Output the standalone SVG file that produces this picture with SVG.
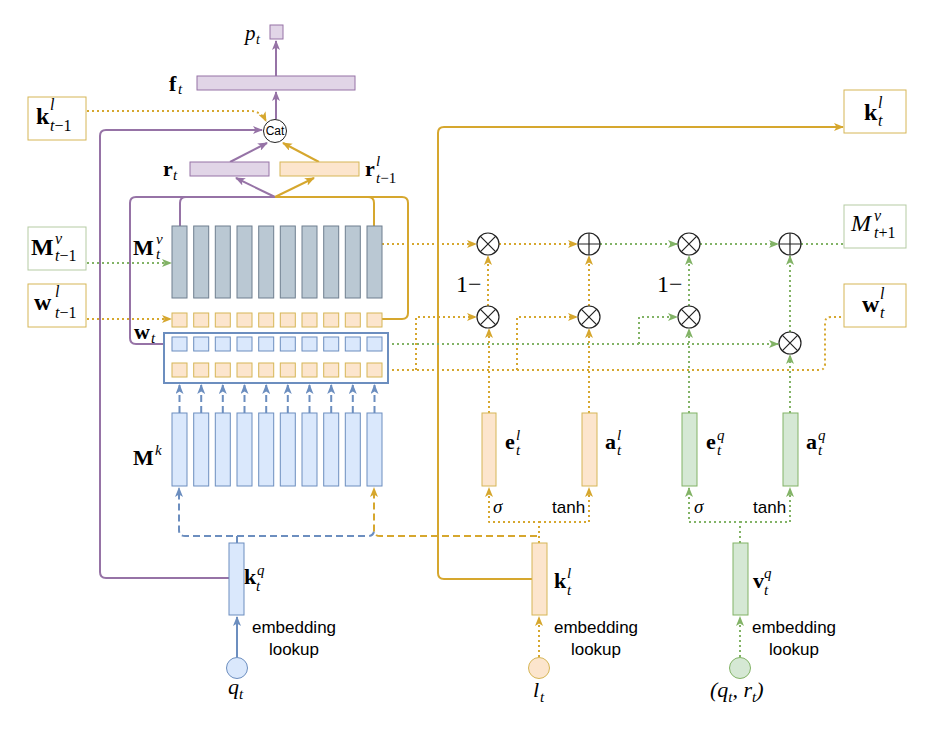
<svg xmlns="http://www.w3.org/2000/svg" width="942" height="738" viewBox="0 0 942 738">
<defs>
<style>
.m{font-family:"Liberation Serif",serif;font-weight:bold;font-size:22px;fill:#000}
.mi{font-family:"Liberation Serif",serif;font-style:italic;font-size:22px;fill:#000}
.s{font-family:"Liberation Serif",serif;font-style:italic;font-weight:normal;font-size:15px}
.sn{font-family:"Liberation Serif",serif;font-style:normal;font-weight:normal;font-size:15px}
.sans{font-family:"Liberation Sans",Arial,sans-serif;font-size:17px;fill:#000}
.pu{fill:#e1d5e7;stroke:#9673a6;stroke-width:1}
.go{fill:#fce5cd;stroke:#d6b656;stroke-width:1}
.gr{fill:#d5e8d4;stroke:#82b366;stroke-width:1}
.bl{fill:#dae8fc;stroke:#6c8ebf;stroke-width:1}
.gy{fill:#bac8d3;stroke:#6f7f8f;stroke-width:1}
.lab{fill:#fff;stroke-width:1}
.op{fill:#fff;stroke:#222;stroke-width:1.2}
.opl{stroke:#222;stroke-width:1.2}
.c{fill:none;stroke-width:2;stroke-linejoin:round}
.cp{stroke:#9673a6}
.cg{stroke:#d6a72e}
.cgr{stroke:#82b366}
.cb{stroke:#6c8ebf}
.dot{stroke-dasharray:2 3}
.dash{stroke-dasharray:7 4}
</style>
<marker id="ap" viewBox="0 0 10 8" refX="9" refY="4" markerWidth="10" markerHeight="8" markerUnits="userSpaceOnUse" orient="auto"><path d="M0,0 L10,4 L0,8 L2.5,4 z" fill="#9673a6"/></marker>
<marker id="ag" viewBox="0 0 10 8" refX="9" refY="4" markerWidth="10" markerHeight="8" markerUnits="userSpaceOnUse" orient="auto"><path d="M0,0 L10,4 L0,8 L2.5,4 z" fill="#d6a72e"/></marker>
<marker id="agr" viewBox="0 0 10 8" refX="9" refY="4" markerWidth="10" markerHeight="8" markerUnits="userSpaceOnUse" orient="auto"><path d="M0,0 L10,4 L0,8 L2.5,4 z" fill="#82b366"/></marker>
<marker id="ab" viewBox="0 0 10 8" refX="9" refY="4" markerWidth="10" markerHeight="8" markerUnits="userSpaceOnUse" orient="auto"><path d="M0,0 L10,4 L0,8 L2.5,4 z" fill="#6c8ebf"/></marker>
</defs>
<rect width="942" height="738" fill="#fff"/>

<g id="connectors">
<!-- purple solid -->
<path class="c cp" d="M276,119 L276,92" marker-end="url(#ap)"/>
<path class="c cp" d="M276,76 L276,41" marker-end="url(#ap)"/>
<path class="c cp" d="M230,162 L267,143" marker-end="url(#ap)"/>
<path class="c cp" d="M275,197 L236,178" marker-end="url(#ap)"/>
<path class="c cp" d="M275,197 L186,197 Q180,197 180,203 L180,226"/>
<path class="c cp" d="M275,197 L136,197 Q130,197 130,203 L130,338 Q130,344 136,344 L172,344"/>
<path class="c cp" d="M229,578 L106,578 Q100,578 100,572 L100,136 Q100,130 106,130 L262,130" marker-end="url(#ap)"/>
<!-- gold solid -->
<path class="c cg" d="M319,162 L283,143" marker-end="url(#ag)"/>
<path class="c cg" d="M275,197 L314,178" marker-end="url(#ag)"/>
<path class="c cg" d="M275,197 L368,197 Q374,197 374,203 L374,226"/>
<path class="c cg" d="M275,197 L402,197 Q408,197 408,203 L408,313 Q408,319 402,319 L382,319"/>
<path class="c cg" d="M532,579 L444,579 Q438,579 438,573 L438,133 Q438,127 444,127 L843,127" marker-end="url(#ag)"/>
<!-- gold dotted -->
<path class="c cg dot" d="M72,111 L250,111 Q261,111 266,121" marker-end="url(#ag)"/>
<path class="c cg dot" d="M72,319 L171,319" marker-end="url(#ag)"/>
<path class="c cg dot" d="M382,244 L476,244" marker-end="url(#ag)"/>
<path class="c cg dot" d="M499,244 L577,244" marker-end="url(#ag)"/>
<path class="c cg dot" d="M488,306 L488,256" marker-end="url(#ag)"/>
<path class="c cg dot" d="M589,306 L589,256" marker-end="url(#ag)"/>
<path class="c cg dot" d="M382,370 L819,370 Q825,370 825,364 L825,323 Q825,317 831,317 L870,317" marker-end="url(#ag)"/>
<path class="c cg dot" d="M416,370 L416,317 L476,317" marker-end="url(#ag)"/>
<path class="c cg dot" d="M517,370 L517,317 L577,317" marker-end="url(#ag)"/>
<path class="c cg dot" d="M489,413 L489,329" marker-end="url(#ag)"/>
<path class="c cg dot" d="M589,413 L589,329" marker-end="url(#ag)"/>
<path class="c cg dot" d="M539,543 L539,522 L489,522 L489,488" marker-end="url(#ag)"/>
<path class="c cg dot" d="M539,522 L589,522 L589,488" marker-end="url(#ag)"/>
<path class="c cg dot" d="M539,657 L539,617" marker-end="url(#ag)"/>
<!-- gold dashed -->
<path class="c cg dash" d="M537,536 L380,536 Q374,536 374,530 L374,488" marker-end="url(#ag)"/>
<!-- green dotted -->
<path class="c cgr dot" d="M72,263 L171,263" marker-end="url(#agr)"/>
<path class="c cgr dot" d="M600,244 L677,244" marker-end="url(#agr)"/>
<path class="c cgr dot" d="M700,244 L778,244" marker-end="url(#agr)"/>
<path class="c cgr dot" d="M801,244 L862,244" marker-end="url(#agr)"/>
<path class="c cgr dot" d="M382,344 L778,344" marker-end="url(#agr)"/>
<path class="c cgr dot" d="M639,344 L639,317 L677,317" marker-end="url(#agr)"/>
<path class="c cgr dot" d="M689,306 L689,256" marker-end="url(#agr)"/>
<path class="c cgr dot" d="M790,332 L790,256" marker-end="url(#agr)"/>
<path class="c cgr dot" d="M689,413 L689,329" marker-end="url(#agr)"/>
<path class="c cgr dot" d="M790,413 L790,355" marker-end="url(#agr)"/>
<path class="c cgr dot" d="M740,543 L740,522 L689,522 L689,488" marker-end="url(#agr)"/>
<path class="c cgr dot" d="M740,522 L790,522 L790,488" marker-end="url(#agr)"/>
<path class="c cgr dot" d="M740,657 L740,617" marker-end="url(#agr)"/>
<!-- blue -->
<path class="c cb" d="M237,657 L237,617" marker-end="url(#ab)"/>
<path class="c cb dash" d="M237,543 L237,536 L185,536 Q179,536 179,530 L179,488" marker-end="url(#ab)"/>
<path class="c cb dash" d="M237,536 L368,536 Q374,536 374,530"/>
<g class="c cb dash">
<path d="M179.5,413 L179.5,385" marker-end="url(#ab)"/>
<path d="M201.2,413 L201.2,385" marker-end="url(#ab)"/>
<path d="M222.8,413 L222.8,385" marker-end="url(#ab)"/>
<path d="M244.5,413 L244.5,385" marker-end="url(#ab)"/>
<path d="M266.2,413 L266.2,385" marker-end="url(#ab)"/>
<path d="M287.8,413 L287.8,385" marker-end="url(#ab)"/>
<path d="M309.5,413 L309.5,385" marker-end="url(#ab)"/>
<path d="M331.2,413 L331.2,385" marker-end="url(#ab)"/>
<path d="M352.8,413 L352.8,385" marker-end="url(#ab)"/>
<path d="M374.5,413 L374.5,385" marker-end="url(#ab)"/>
</g>
</g>

<g id="p_t">
<rect class="pu" x="270" y="25" width="13" height="14"/>
<text class="mi" x="245" y="40" style="font-size:21px">p<tspan class="s" x="256" y="44" style="font-size:14px">t</tspan></text>
</g>
<g id="f_t">
<rect class="pu" x="197" y="76" width="158" height="14"/>
<text class="m" x="169" y="91" style="font-size:22px">f<tspan class="s" x="178" y="94" style="font-size:15px">t</tspan></text>
</g>
<g id="cat">
<circle cx="275" cy="131" r="11.5" fill="#fff" stroke="#222" stroke-width="1"/>
<text class="sans" x="275" y="135" text-anchor="middle" style="font-size:12px">Cat</text>
</g>
<g id="r_t">
<rect class="pu" x="190" y="162" width="79" height="14"/>
<text class="m" x="163" y="176">r<tspan class="s" x="173" y="180">t</tspan></text>
</g>
<g id="r_tm1">
<rect class="go" x="280" y="162" width="79" height="14"/>
<text class="m" x="365" y="176">r<tspan class="s" x="376" y="166">l</tspan><tspan class="s" x="376" y="183">t<tspan class="sn">−1</tspan></tspan></text>
</g>
<g id="k_tm1">
<rect class="lab" x="28" y="97" width="58" height="43" stroke="#d6b656"/>
<text class="m" x="36" y="124" style="font-size:24px">k<tspan class="s" x="50" y="110" style="font-size:16px">l</tspan><tspan class="s" x="50" y="131" style="font-size:16px">t<tspan class="sn" style="font-size:16px">−1</tspan></tspan></text>
</g>
<g id="M_tm1">
<rect class="lab" x="28" y="227" width="58" height="43" stroke="#b5cba3"/>
<text class="m" x="31" y="255" style="font-size:24px">M<tspan class="s" x="55" y="244" style="font-size:16px">v</tspan><tspan class="s" x="55" y="261" style="font-size:16px">t<tspan class="sn" style="font-size:16px">−1</tspan></tspan></text>
</g>
<g id="w_tm1">
<rect class="lab" x="28" y="284" width="58" height="43" stroke="#d6b656"/>
<text class="m" x="34" y="310" style="font-size:24px">w<tspan class="s" x="55" y="297" style="font-size:16px">l</tspan><tspan class="s" x="55" y="318" style="font-size:16px">t<tspan class="sn" style="font-size:16px">−1</tspan></tspan></text>
</g>
<g id="Mv">
<rect class="gy" x="172" y="226" width="15" height="72"/>
<rect class="gy" x="193.7" y="226" width="15" height="72"/>
<rect class="gy" x="215.3" y="226" width="15" height="72"/>
<rect class="gy" x="237" y="226" width="15" height="72"/>
<rect class="gy" x="258.7" y="226" width="15" height="72"/>
<rect class="gy" x="280.3" y="226" width="15" height="72"/>
<rect class="gy" x="302" y="226" width="15" height="72"/>
<rect class="gy" x="323.7" y="226" width="15" height="72"/>
<rect class="gy" x="345.3" y="226" width="15" height="72"/>
<rect class="gy" x="367" y="226" width="15" height="72"/>
<text class="m" x="133" y="255">M<tspan class="s" x="156" y="244">v</tspan><tspan class="s" x="156" y="259">t</tspan></text>
</g>
<g id="wl_row">
<rect class="go" x="172" y="313" width="15" height="14"/>
<rect class="go" x="193.7" y="313" width="15" height="14"/>
<rect class="go" x="215.3" y="313" width="15" height="14"/>
<rect class="go" x="237" y="313" width="15" height="14"/>
<rect class="go" x="258.7" y="313" width="15" height="14"/>
<rect class="go" x="280.3" y="313" width="15" height="14"/>
<rect class="go" x="302" y="313" width="15" height="14"/>
<rect class="go" x="323.7" y="313" width="15" height="14"/>
<rect class="go" x="345.3" y="313" width="15" height="14"/>
<rect class="go" x="367" y="313" width="15" height="14"/>
</g>
<g id="w_t">
<rect x="164" y="333" width="224" height="50" fill="#fff" stroke="#6c8ebf" stroke-width="2"/>
<rect class="bl" x="172" y="337" width="15" height="14"/>
<rect class="bl" x="193.7" y="337" width="15" height="14"/>
<rect class="bl" x="215.3" y="337" width="15" height="14"/>
<rect class="bl" x="237" y="337" width="15" height="14"/>
<rect class="bl" x="258.7" y="337" width="15" height="14"/>
<rect class="bl" x="280.3" y="337" width="15" height="14"/>
<rect class="bl" x="302" y="337" width="15" height="14"/>
<rect class="bl" x="323.7" y="337" width="15" height="14"/>
<rect class="bl" x="345.3" y="337" width="15" height="14"/>
<rect class="bl" x="367" y="337" width="15" height="14"/>
<rect class="go" x="172" y="363" width="15" height="14"/>
<rect class="go" x="193.7" y="363" width="15" height="14"/>
<rect class="go" x="215.3" y="363" width="15" height="14"/>
<rect class="go" x="237" y="363" width="15" height="14"/>
<rect class="go" x="258.7" y="363" width="15" height="14"/>
<rect class="go" x="280.3" y="363" width="15" height="14"/>
<rect class="go" x="302" y="363" width="15" height="14"/>
<rect class="go" x="323.7" y="363" width="15" height="14"/>
<rect class="go" x="345.3" y="363" width="15" height="14"/>
<rect class="go" x="367" y="363" width="15" height="14"/>
<text class="m" x="134" y="339">w<tspan class="s" x="151" y="343">t</tspan></text>
</g>
<g id="Mk">
<rect class="bl" x="172" y="413" width="15" height="73"/>
<rect class="bl" x="193.7" y="413" width="15" height="73"/>
<rect class="bl" x="215.3" y="413" width="15" height="73"/>
<rect class="bl" x="237" y="413" width="15" height="73"/>
<rect class="bl" x="258.7" y="413" width="15" height="73"/>
<rect class="bl" x="280.3" y="413" width="15" height="73"/>
<rect class="bl" x="302" y="413" width="15" height="73"/>
<rect class="bl" x="323.7" y="413" width="15" height="73"/>
<rect class="bl" x="345.3" y="413" width="15" height="73"/>
<rect class="bl" x="367" y="413" width="15" height="73"/>
<text class="m" x="133" y="465">M<tspan class="s" x="155" y="455">k</tspan></text>
</g>
<g id="k_tq">
<rect class="bl" x="229" y="543" width="15" height="72"/>
<text class="m" x="244" y="584">k<tspan class="s" x="257" y="575">q</tspan><tspan class="s" x="256" y="591">t</tspan></text>
</g>
<g id="q_t">
<circle cx="237" cy="668" r="10.5" fill="#dae8fc" stroke="#6c8ebf" stroke-width="1"/>
<text class="mi" x="228" y="694">q<tspan class="s" x="239" y="699">t</tspan></text>
<text class="sans" x="294" y="633" text-anchor="middle">embedding</text>
<text class="sans" x="294" y="655" text-anchor="middle">lookup</text>
</g>
<g id="ops">
<g><circle class="op" cx="488" cy="244" r="11"/><path class="opl" d="M480.2,236.2 L495.8,251.8 M495.8,236.2 L480.2,251.8"/></g>
<g><circle class="op" cx="589" cy="244" r="11"/><path class="opl" d="M578,244 L600,244 M589,233 L589,255"/></g>
<g><circle class="op" cx="689" cy="244" r="11"/><path class="opl" d="M681.2,236.2 L696.8,251.8 M696.8,236.2 L681.2,251.8"/></g>
<g><circle class="op" cx="790" cy="244" r="11"/><path class="opl" d="M779,244 L801,244 M790,233 L790,255"/></g>
<g><circle class="op" cx="488" cy="317" r="11"/><path class="opl" d="M480.2,309.2 L495.8,324.8 M495.8,309.2 L480.2,324.8"/></g>
<g><circle class="op" cx="589" cy="317" r="11"/><path class="opl" d="M581.2,309.2 L596.8,324.8 M596.8,309.2 L581.2,324.8"/></g>
<g><circle class="op" cx="689" cy="317" r="11"/><path class="opl" d="M681.2,309.2 L696.8,324.8 M696.8,309.2 L681.2,324.8"/></g>
<g><circle class="op" cx="790" cy="343" r="11"/><path class="opl" d="M782.2,335.2 L797.8,350.8 M797.8,335.2 L782.2,350.8"/></g>
<text x="456" y="292" style="font-family:'Liberation Serif',serif;font-size:24px">1−</text>
<text x="657" y="292" style="font-family:'Liberation Serif',serif;font-size:24px">1−</text>
</g>
<g id="e_tl">
<rect class="go" x="482" y="413" width="14" height="73"/>
<text class="m" x="505" y="449">e<tspan class="s" x="516" y="440">l</tspan><tspan class="s" x="516" y="455">t</tspan></text>
</g>
<g id="a_tl">
<rect class="go" x="582" y="413" width="15" height="73"/>
<text class="m" x="605" y="449">a<tspan class="s" x="617" y="440">l</tspan><tspan class="s" x="617" y="455">t</tspan></text>
</g>
<g id="e_tq">
<rect class="gr" x="682" y="413" width="15" height="73"/>
<text class="m" x="706" y="449">e<tspan class="s" x="717" y="440">q</tspan><tspan class="s" x="717" y="455">t</tspan></text>
</g>
<g id="a_tq">
<rect class="gr" x="783" y="413" width="15" height="73"/>
<text class="m" x="806" y="449">a<tspan class="s" x="818" y="440">q</tspan><tspan class="s" x="818" y="455">t</tspan></text>
</g>
<g id="acts">
<text class="mi" x="493" y="513" style="font-size:19px">σ</text>
<text class="sans" x="552" y="513">tanh</text>
<text class="mi" x="694" y="513" style="font-size:19px">σ</text>
<text class="sans" x="753" y="513">tanh</text>
</g>
<g id="k_tl">
<rect class="go" x="532" y="543" width="15" height="72"/>
<text class="m" x="554" y="588">k<tspan class="s" x="567" y="578">l</tspan><tspan class="s" x="567" y="595">t</tspan></text>
</g>
<g id="l_t">
<circle cx="539" cy="668" r="10.5" fill="#fce5cd" stroke="#d6b656" stroke-width="1"/>
<text class="mi" x="533" y="697">l<tspan class="s" x="540" y="702">t</tspan></text>
<text class="sans" x="596" y="633" text-anchor="middle">embedding</text>
<text class="sans" x="596" y="655" text-anchor="middle">lookup</text>
</g>
<g id="v_tq">
<rect class="gr" x="733" y="543" width="15" height="72"/>
<text class="m" x="753" y="588">v<tspan class="s" x="764" y="578">q</tspan><tspan class="s" x="764" y="595">t</tspan></text>
</g>
<g id="qr_t">
<circle cx="740" cy="668" r="10.5" fill="#d5e8d4" stroke="#82b366" stroke-width="1"/>
<text class="mi" x="710" y="697">(q<tspan class="s" dy="5">t</tspan><tspan dy="-5">, r</tspan><tspan class="s" dy="5">t</tspan><tspan dy="-5">)</tspan></text>
<text class="sans" x="794" y="633" text-anchor="middle">embedding</text>
<text class="sans" x="794" y="655" text-anchor="middle">lookup</text>
</g>
<g id="k_t_out">
<rect class="lab" x="844" y="90" width="62" height="43" stroke="#d6b656"/>
<text class="m" x="864" y="120" style="font-size:24px">k<tspan class="s" x="878" y="108" style="font-size:16px">l</tspan><tspan class="s" x="878" y="126" style="font-size:16px">t</tspan></text>
</g>
<g id="M_tp1">
<rect class="lab" x="844" y="205" width="62" height="43" stroke="#b5cba3"/>
<text class="mi" x="851" y="231" style="font-size:24px">M<tspan class="s" x="874" y="221" style="font-size:16px">v</tspan><tspan class="s" x="874" y="238" style="font-size:16px">t<tspan class="sn" style="font-size:16px">+1</tspan></tspan></text>
</g>
<g id="w_t_out">
<rect class="lab" x="844" y="284" width="62" height="43" stroke="#d6b656"/>
<text class="m" x="862" y="312" style="font-size:24px">w<tspan class="s" x="880" y="299" style="font-size:16px">l</tspan><tspan class="s" x="880" y="318" style="font-size:16px">t</tspan></text>
</g>
</svg>
